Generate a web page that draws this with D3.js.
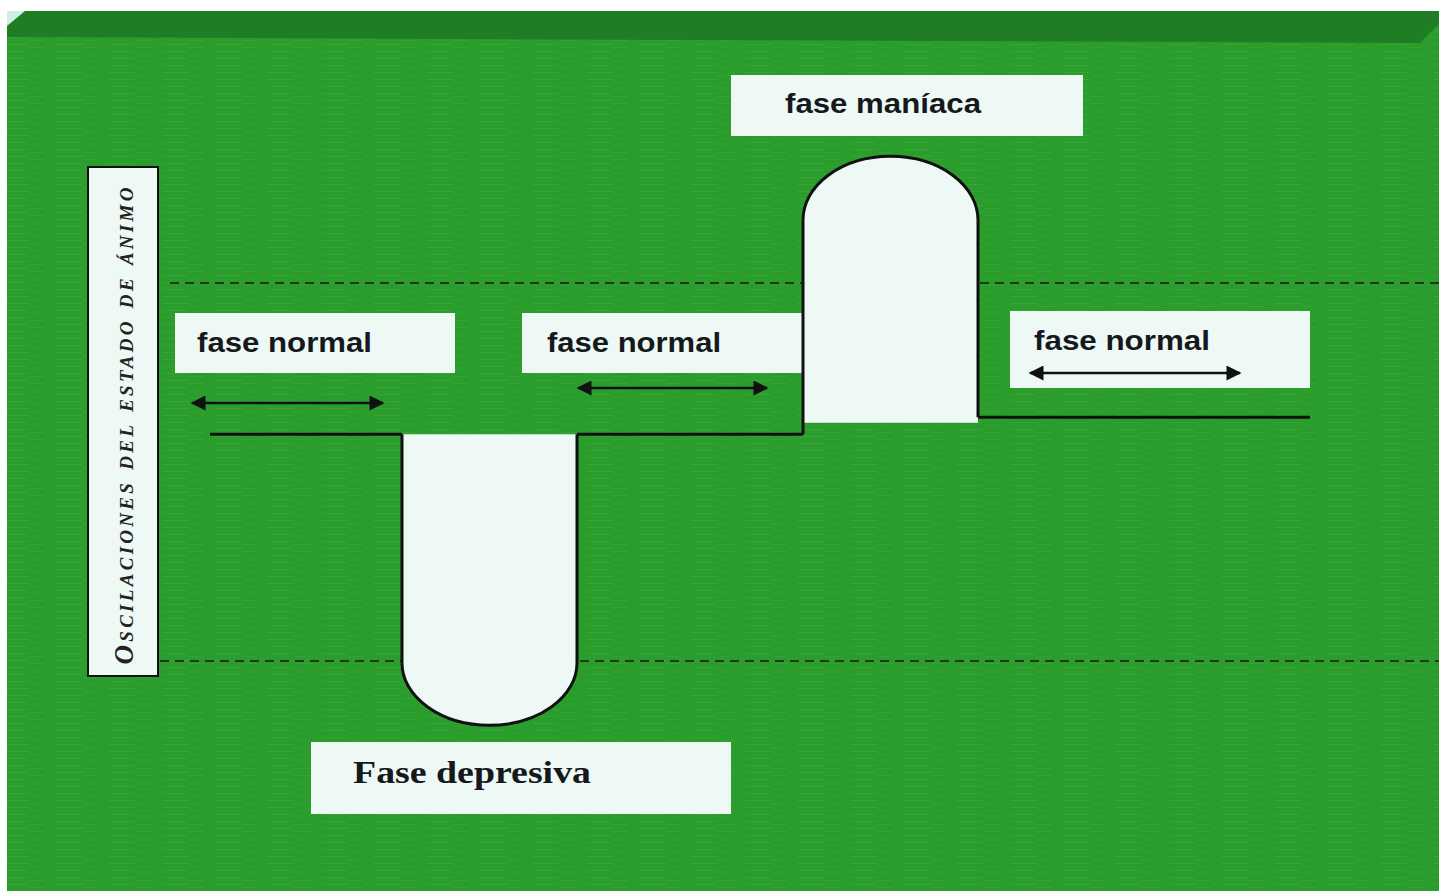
<!DOCTYPE html>
<html>
<head>
<meta charset="utf-8">
<script src="https://cdn.jsdelivr.net/npm/d3@7"></script>
<style>
  html, body { margin: 0; padding: 0; background: #ffffff; }
  svg { display: block; }
</style>
</head>
<body>
<div id="graph"></div>
<script>
// data: the phases of the mood cycle
var phaseNames = ["fase normal", "Fase depresiva", "fase normal", "fase maníaca", "fase normal"];
var phaseStart = [0, 3.84, 7.34, 11.86, 15.36];   // time units
var phaseEnd = [3.84, 7.34, 11.86, 15.36, 22];
var phaseBase = [0.2, 0.2, 0.2, 0.29, 0.29];       // level at the start / end of the phase
var phaseLevel = [0.2, -1.34, 0.2, 1.67, 0.29];    // extreme level reached
var thresholds = [1, -1];                           // dashed limits of normal mood
var axisTitle = "Oscilaciones del estado de ánimo";

// measurements
var width = 1439;
var height = 891;
var margin = { left: 210, right: 129 };

var x = d3.scaleLinear().domain([0, 22]).range([margin.left, width - margin.right]);
var y = d3.scaleLinear().domain([-1, 1]).range([661, 283]);

var green = "#2a9d2c";
var darkGreen = "#1f7d26";
var paper = "#eef8f5";

var chart = d3.select("#graph").append("svg")
    .attr("width", width)
    .attr("height", height);

// scan texture
var defs = chart.append("defs");
var pat = defs.append("pattern")
    .attr("id", "scan")
    .attr("width", 53).attr("height", 7)
    .attr("patternUnits", "userSpaceOnUse");
pat.append("rect").attr("width", 53).attr("height", 7).attr("fill", green);
pat.append("rect").attr("x", 3).attr("y", 2).attr("width", 26).attr("height", 1)
    .attr("fill", "#6cc865").attr("opacity", 0.18);
pat.append("rect").attr("x", 30).attr("y", 5).attr("width", 15).attr("height", 1)
    .attr("fill", "#6cc865").attr("opacity", 0.12);

// background card
chart.append("rect")
    .attr("x", 7).attr("y", 11)
    .attr("width", width - 7).attr("height", height - 11)
    .attr("fill", "url(#scan)");
chart.append("path")
    .attr("d", "M7,11 L1439,11 L1439,24 L1420,43 L7,37 Z")
    .attr("fill", darkGreen);
chart.append("path")
    .attr("d", "M7,11 L25,11 L7,26 Z")
    .attr("fill", "#cfeee4");

// dashed limits
chart.selectAll(".limit")
    .data(thresholds)
    .enter().append("line")
      .attr("class", "limit")
      .attr("x1", function(d) { return d > 0 ? 170 : 160; })
      .attr("x2", width)
      .attr("y1", function(d) { return y(d); })
      .attr("y2", function(d) { return y(d); })
      .style("stroke", "#1a3a1a")
      .style("stroke-width", 2)
      .style("stroke-dasharray", "9,6");

// y axis title box
var titleBox = chart.append("g");
titleBox.append("rect")
    .attr("x", 88).attr("y", 167)
    .attr("width", 70).attr("height", 509)
    .attr("fill", paper)
    .attr("stroke", "#111").attr("stroke-width", 2);
titleBox.append("text")
    .attr("transform", "translate(133," + 426 + ") rotate(-90)")
    .attr("text-anchor", "middle")
    .attr("textLength", 477)
    .attr("lengthAdjust", "spacing")
    .style("font-family", "'Liberation Serif', 'DejaVu Serif', serif")
    .style("font-style", "italic")
    .style("font-weight", "bold")
    .style("font-variant", "small-caps")
    .style("font-size", "27px")
    .style("fill", "#222")
    .text(axisTitle);

// label boxes (layout only)
var labelBoxes = [
  { phase: 0, x: 175, y: 313, w: 280, h: 60, tx: 197, ty: 352, tw: 175 },
  { phase: 1, x: 311, y: 742, w: 420, h: 72, tx: 353, ty: 783, tw: 238 },
  { phase: 2, x: 522, y: 313, w: 280, h: 60, tx: 547, ty: 352, tw: 174 },
  { phase: 3, x: 731, y: 75, w: 352, h: 61, tx: 785, ty: 113, tw: 196 },
  { phase: 4, x: 1010, y: 311, w: 300, h: 77, tx: 1034, ty: 350, tw: 176 }
];

chart.selectAll(".labelBox")
    .data(labelBoxes)
    .enter().append("rect")
      .attr("class", "labelBox")
      .attr("x", function(d) { return d.x; })
      .attr("y", function(d) { return d.y; })
      .attr("width", function(d) { return d.w; })
      .attr("height", function(d) { return d.h; })
      .attr("fill", paper);

chart.selectAll(".labelText")
    .data(labelBoxes)
    .enter().append("text")
      .attr("class", "labelText")
      .attr("x", function(d) { return d.tx; })
      .attr("y", function(d) { return d.ty; })
      .attr("textLength", function(d) { return d.tw; })
      .attr("lengthAdjust", "spacingAndGlyphs")
      .style("font-family", function(d) {
        return d.phase === 1 ? "'Liberation Serif', serif" : "'Liberation Sans', Arial, sans-serif";
      })
      .style("font-weight", "bold")
      .style("font-size", function(d) { return d.phase === 1 ? "32px" : "28px"; })
      .style("fill", "#15191c")
      .text(function(d) { return phaseNames[d.phase]; });

// mood curve: white bulges for the depressive and manic phases
function bulge(i) {
  var x0 = x(phaseStart[i]), x1 = x(phaseEnd[i]);
  var up = phaseLevel[i] > 0;
  var lim = up ? 1.333 : -1.01;
  var rx = (x1 - x0) / 2;
  var ry = Math.abs(y(phaseLevel[i]) - y(lim));
  var yb = y(phaseBase[i] - (up ? 0.03 : 0));
  return "M" + x0 + "," + yb +
         " L" + x0 + "," + y(lim) +
         " A" + rx + "," + ry + " 0 0 " + (up ? 1 : 0) + " " + x1 + "," + y(lim) +
         " L" + x1 + "," + yb + " Z";
}

chart.selectAll(".bulge")
    .data([1, 3])
    .enter().append("path")
      .attr("class", "bulge")
      .attr("d", bulge)
      .attr("fill", paper);

// the black outline
var line = [];
phaseNames.forEach(function(name, i) {
  var x0 = x(phaseStart[i]), x1 = x(phaseEnd[i]);
  if (phaseLevel[i] === phaseBase[i]) {
    line.push("M" + x0 + "," + y(phaseBase[i]) + " L" + x1 + "," + y(phaseBase[i]));
  } else {
    var up = phaseLevel[i] > 0;
    var lim = up ? 1.333 : -1.01;
    var rx = (x1 - x0) / 2;
    var ry = Math.abs(y(phaseLevel[i]) - y(lim));
    var yPrev = y(phaseBase[i - 1]), yNext = y(phaseBase[i + 1]);
    line.push("M" + x0 + "," + yPrev + " L" + x0 + "," + y(lim) +
              " A" + rx + "," + ry + " 0 0 " + (up ? 1 : 0) + " " + x1 + "," + y(lim) +
              " L" + x1 + "," + yNext);
  }
});
chart.append("path")
    .attr("d", line.join(" "))
    .attr("fill", "none")
    .style("stroke", "#111")
    .style("stroke-width", 3);

// arrows showing duration of normal phases
defs.append("marker")
    .attr("id", "head")
    .attr("viewBox", "0 0 10 10")
    .attr("refX", 9).attr("refY", 5)
    .attr("markerWidth", 7).attr("markerHeight", 6)
    .attr("markerUnits", "strokeWidth")
    .attr("orient", "auto-start-reverse")
  .append("path")
    .attr("d", "M0,0 L10,5 L0,10 Z")
    .attr("fill", "#111");

var arrows = [
  { x1: 192, x2: 383, y: 403 },
  { x1: 578, x2: 767, y: 388 },
  { x1: 1030, x2: 1240, y: 373 }
];
chart.selectAll(".arrow")
    .data(arrows)
    .enter().append("line")
      .attr("class", "arrow")
      .attr("x1", function(d) { return d.x1; })
      .attr("x2", function(d) { return d.x2; })
      .attr("y1", function(d) { return d.y; })
      .attr("y2", function(d) { return d.y; })
      .attr("marker-start", "url(#head)")
      .attr("marker-end", "url(#head)")
      .style("stroke", "#111")
      .style("stroke-width", 2.5);
</script>
</body>
</html>
